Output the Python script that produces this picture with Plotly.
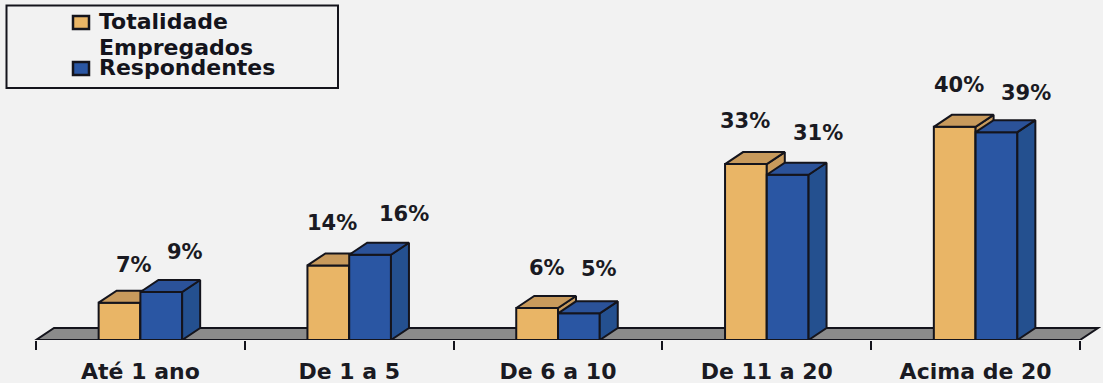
import plotly.graph_objects as go

categories = ["Até 1 ano", "De 1 a 5", "De 6 a 10", "De 11 a 20", "Acima de 20"]
totalidade = [7, 14, 6, 33, 40]
respondentes = [9, 16, 5, 31, 39]
label_shift_tot = [(14, 38), (4, 42), (10, 40), (-1, 43), (4, 42)]
label_shift_res = [(24, 40), (34, 41), (20, 44), (30, 42), (30, 39)]

W, H = 1103, 383
UNIT = 208.8        # px per category
LEFT = 36           # px of the first tick
BASE = 340          # px of y = 0
PX_PCT = 5.33       # px per percent
DX = 18 / UNIT      # 3-D depth in x units
DY = 12 / PX_PCT    # 3-D depth in y units
BW = 0.2
EDGE = "#14141c"
BG = "#f2f2f2"
FONT = "DejaVu Sans, Verdana, sans-serif"

xr = [-0.5 - LEFT / UNIT, (W - LEFT) / UNIT - 0.5]
yr = [0, BASE / PX_PCT]
idx = list(range(len(categories)))


def faces(centers, values):
    tx, ty, sx, sy = [], [], [], []
    for c, v in zip(centers, values):
        l, r = c - BW / 2, c + BW / 2
        tx += [l, r, r + DX, l + DX, l, None]
        ty += [v, v, v + DY, v + DY, v, None]
        sx += [r, r + DX, r + DX, r, r, None]
        sy += [v, v + DY, DY, 0, v, None]
    return tx, ty, sx, sy


def series(name, values, off, front, top, side, xa, ya):
    centers = [i + off for i in idx]
    tx, ty, sx, sy = faces(centers, values)
    line = dict(color=EDGE, width=2)
    return [
        go.Bar(name=name, x=centers, y=values, width=BW, marker=dict(color=front, line=line),
               xaxis=xa, yaxis=ya, showlegend=False, hoverinfo="skip"),
        go.Scatter(x=sx, y=sy, mode="lines", fill="toself", fillcolor=side, line=line,
                   xaxis=xa, yaxis=ya, showlegend=False, hoverinfo="skip"),
        go.Scatter(x=tx, y=ty, mode="lines", fill="toself", fillcolor=top, line=line,
                   xaxis=xa, yaxis=ya, showlegend=False, hoverinfo="skip"),
    ]


fig = go.Figure()
fig.add_traces(series("Totalidade Empregados", totalidade, -BW / 2, "#e9b566", "#c89a5c", "#c89a5c", "x", "y"))
fig.add_traces(series("Respondentes", respondentes, BW / 2, "#2a56a3", "#2b5299", "#24508f", "x2", "y2"))

a0, a1 = -0.5, len(categories) - 0.5


def py(px):
    # paper y covers only the plot area, which ends at BASE
    return 1 - px / BASE


shapes = [
    # floor
    dict(type="path", xref="x", yref="y", layer="below", fillcolor="#8b8b8b",
         line=dict(color=EDGE, width=2),
         path=f"M {a0} 0 L {a1} 0 L {a1 + DX} {DY} L {a0 + DX} {DY} Z"),
    # legend box and swatches
    dict(type="rect", xref="paper", yref="paper", x0=6.5 / W, x1=338 / W, y0=py(88), y1=py(5.5),
         line=dict(color=EDGE, width=2), fillcolor="rgba(0,0,0,0)"),
    dict(type="rect", xref="paper", yref="paper", x0=73 / W, x1=89 / W, y0=py(29), y1=py(16),
         line=dict(color=EDGE, width=2.5), fillcolor="#e9b566"),
    dict(type="rect", xref="paper", yref="paper", x0=73 / W, x1=89 / W, y0=py(75), y1=py(62),
         line=dict(color=EDGE, width=2.5), fillcolor="#2a56a3"),
]

annots = []
for vals, off, shifts in ((totalidade, -BW / 2, label_shift_tot), (respondentes, BW / 2, label_shift_res)):
    for i, v, (sx, sy) in zip(idx, vals, shifts):
        annots.append(dict(x=i + off, y=v, xref="x", yref="y", text=f"<b>{v}%</b>", showarrow=False,
                           xshift=sx, yshift=sy, font=dict(family=FONT, size=21, color="#1a1a22")))
for text, ypx in (("Totalidade", 22), ("Empregados", 48), ("Respondentes", 68)):
    annots.append(dict(x=97 / W, y=py(ypx), xref="paper", yref="paper", text=f"<b>{text}</b>",
                       showarrow=False, xanchor="left", yanchor="middle",
                       font=dict(family=FONT, size=22, color="#14141c")))

fig.update_layout(
    width=W, height=H, margin=dict(l=0, r=0, t=0, b=H - BASE),
    paper_bgcolor=BG, plot_bgcolor=BG, barmode="overlay", showlegend=False,
    font=dict(family=FONT, color="#1a1a22"),
    shapes=shapes, annotations=annots,
    xaxis=dict(range=xr, tickvals=idx, ticktext=[f"<b>{c}</b>" for c in categories],
               ticks="", showgrid=False, zeroline=False, showline=False, automargin=False,
               tickfont=dict(family=FONT, size=22, color="#1a1a22"), ticklabelstandoff=16,
               minor=dict(tickvals=[i - 0.5 for i in idx] + [a1], ticks="outside", ticklen=9,
                          tickwidth=2, tickcolor=EDGE, showgrid=False)),
    yaxis=dict(range=yr, visible=False),
    xaxis2=dict(range=xr, overlaying="x", visible=False),
    yaxis2=dict(range=yr, overlaying="y", visible=False),
)

fig.write_html("out.html", config=dict(displayModeBar=False),
               post_script="document.body.style.margin='0';document.body.style.background='#f2f2f2';")
